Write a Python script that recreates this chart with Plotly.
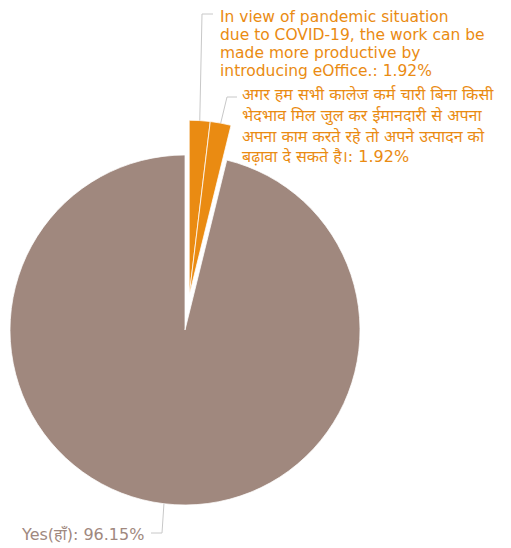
import math
import plotly.graph_objects as go

label_lines = [
    ["In view of pandemic situation",
     "due to COVID-19, the work can be",
     "made more productive by",
     "introducing eOffice."],
    ["अगर हम सभी कालेज कर्म चारी बिना किसी",
     "भेदभाव मिल जुल कर ईमानदारी से अपना",
     "अपना काम करते रहे तो अपने उत्पादन को",
     "बढ़ावा दे सकते है।"],
    ["Yes(हाँ)"],
]
values = [1.92, 1.92, 96.15]
colors = ["#ea8b12", "#ea8b12", "#a0887e"]
pulled = [True, True, False]

W, H = 511, 548
CX, CY, R = 185, 330, 175   # pie centre / radius in pixels
PULL = 35                   # offset of pulled slices, pixels
FONT = "DejaVu Sans, Noto Sans, sans-serif"

def px(x):
    return x / W

def py(y):
    return 1 - y / H

total = sum(values)
starts, mids = [], []
acc = 0
for v in values:
    starts.append(acc)
    mids.append(acc + v / total * 180)
    acc += v / total * 360

# pulled slices are shifted together along their common bisector
pulled_idx = [i for i in range(len(values)) if pulled[i]]
p_start = starts[pulled_idx[0]]
p_end = starts[pulled_idx[-1]] + values[pulled_idx[-1]] / total * 360
p_mid = math.radians((p_start + p_end) / 2)
PDX, PDY = PULL * math.sin(p_mid), -PULL * math.cos(p_mid)

names = [" ".join(l) for l in label_lines]
fig = go.Figure()
groups = [([i for i in range(len(values)) if not pulled[i]], 0, 0),
          (pulled_idx, PDX, PDY)]
for idx, dx, dy in groups:
    cx, cy = CX + dx, CY + dy
    cols = [colors[j] if j in idx else "rgba(0,0,0,0)" for j in range(len(values))]
    lw = [1 if j in idx else 0 for j in range(len(values))]
    fig.add_trace(go.Pie(
        labels=names,
        values=values,
        sort=False,
        direction="clockwise",
        rotation=0,
        marker=dict(colors=cols, line=dict(color="rgba(255,255,255,0.75)", width=lw)),
        textinfo="none",
        hoverinfo="skip",
        showlegend=False,
        domain=dict(x=[px(cx - R), px(cx + R)], y=[py(cy + R), py(cy - R)]),
    ))

# text: start position of first line; line_h=None -> one block centred at y
label_layout = [
    dict(elbow=(202, 14), end=(213, 14), text=(218, 17), anchor="left", size=15.5, line_h=18),
    dict(elbow=(227, 97), end=(237, 97), text=(240, 125), anchor="left", size=16, line_h=None),
    dict(elbow=(162, 533), end=(151, 533), text=(146, 534), anchor="right", size=16, line_h=18),
]
text_colors = ["#ea8b12", "#ea8b12", "#a0887e"]

shapes, annotations = [], []
for i, lay in enumerate(label_layout):
    a = math.radians(mids[i])
    if pulled[i]:
        ox, oy = CX + PDX, CY + PDY
    else:
        ox, oy = CX, CY
    sx, sy = ox + R * math.sin(a), oy - R * math.cos(a)
    ex, ey = lay["elbow"]
    fx, fy = lay["end"]
    path = f"M {px(sx)} {py(sy)} L {px(ex)} {py(ey)} L {px(fx)} {py(fy)}"
    shapes.append(dict(type="path", path=path, xref="paper", yref="paper",
                       line=dict(color="#c8c8c8", width=1)))
    tx, ty = lay["text"]
    lines = list(label_lines[i])
    lines[-1] = f"{lines[-1]}: {values[i]:.2f}%"
    if lay["line_h"] is None:
        blocks = [("<br>".join(lines), ty)]
    else:
        blocks = [(line, ty + k * lay["line_h"]) for k, line in enumerate(lines)]
    for text, yy in blocks:
        annotations.append(dict(
            x=px(tx), y=py(yy), xref="paper", yref="paper",
            xanchor=lay["anchor"], yanchor="middle", align="left",
            text=text, showarrow=False,
            font=dict(family=FONT, size=lay["size"], color=text_colors[i]),
        ))

fig.update_layout(
    width=W, height=H,
    margin=dict(l=0, r=0, t=0, b=0),
    paper_bgcolor="white", plot_bgcolor="white",
    shapes=shapes, annotations=annotations,
)
fig.write_html("out.html", config={"displayModeBar": False},
               post_script="document.body.style.margin='0';")
